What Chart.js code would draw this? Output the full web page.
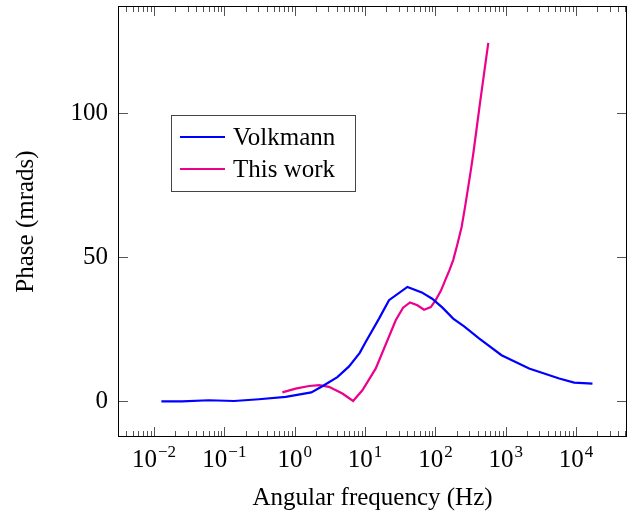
<!DOCTYPE html>
<html>
<head>
<meta charset="utf-8">
<script src="https://cdn.jsdelivr.net/npm/chart.js@4.4.0/dist/chart.umd.min.js"></script>
<style>
  html, body { margin: 0; padding: 0; background: #fff; }
  #wrap { width: 628px; height: 519px; }
</style>
</head>
<body>
<div id="wrap"><canvas id="chart" width="628" height="519"></canvas></div>
<script>
const FONT = '"Liberation Serif", "Times New Roman", serif';

// Volkmann
const volkmannFreq = [0.0127, 0.025, 0.06, 0.137, 0.31, 0.745, 1.72, 2.47, 4.04, 5.92, 8.4, 10.2, 15.8, 21.9,
  40, 64, 90, 126, 179, 256, 417, 872, 2150, 5760, 9400, 17100];
const volkmannPhase = [0, 0, 0.35, 0.1, 0.7, 1.5, 3.1, 5.2, 8.4, 12.1, 16.8, 20.6, 28.7, 35.1,
  39.7, 37.8, 35.6, 32.5, 28.7, 26, 21.8, 16, 11.4, 7.9, 6.5, 6.1];

// This work
const thisWorkFreq = [0.667, 1.03, 1.6, 2.22, 3.07, 4.76, 6.76, 9.16, 14.2, 27.3, 34.7, 43.6, 55.5, 69,
  86, 101, 120, 141, 159, 179, 205, 236, 263, 293, 318, 346, 385, 430, 490, 565];
const thisWorkPhase = [3.1, 4.4, 5.3, 5.6, 5.0, 2.7, 0.1, 3.8, 11.4, 28.1, 32.5, 34.3, 33.3, 31.8,
  32.7, 35.1, 38.4, 42.6, 45.6, 49, 54.4, 60.5, 67.2, 74.4, 80, 86, 94.5, 103.4, 113.5, 124.4];

const xDecades = [-2, -1, 0, 1, 2, 3, 4];
const yTicks = [0, 50, 100];
const xMin = 0.00307, xMax = 53000;
const yMin = -12.4, yMax = 137.2;

const toPoints = (xs, ys) => xs.map((f, i) => ({ x: f, y: ys[i] }));

// inward ticks, box frame, 10^k labels and the legend box
const frame = {
  id: 'frame',
  afterDraw(chart) {
    const { ctx, chartArea: a, scales: { x, y } } = chart;
    ctx.save();
    ctx.strokeStyle = '#555';
    ctx.lineWidth = 1;
    ctx.beginPath();
    for (let k = -3; k <= 4; k++) {
      for (let m = 1; m <= 9; m++) {
        const v = m * Math.pow(10, k);
        if (v <= xMin || v >= xMax) continue;
        const px = Math.round(x.getPixelForValue(v)) + 0.5;
        const len = m === 1 ? 10 : 6;
        ctx.moveTo(px, a.bottom); ctx.lineTo(px, a.bottom - len);
        ctx.moveTo(px, a.top); ctx.lineTo(px, a.top + len);
      }
    }
    yTicks.forEach(v => {
      const py = Math.round(y.getPixelForValue(v)) + 0.5;
      ctx.moveTo(a.left, py); ctx.lineTo(a.left + 10, py);
      ctx.moveTo(a.right, py); ctx.lineTo(a.right - 10, py);
    });
    ctx.stroke();

    ctx.strokeStyle = '#000';
    ctx.strokeRect(a.left + 0.5, a.top + 0.5, a.right - a.left - 1, a.bottom - a.top - 1);

    // x tick labels with superscript exponent
    ctx.fillStyle = '#000';
    ctx.textBaseline = 'alphabetic';
    ctx.textAlign = 'left';
    xDecades.forEach(k => {
      const px = x.getPixelForValue(Math.pow(10, k));
      const base = '10';
      const exp = (k < 0 ? '\u2212' : '') + Math.abs(k);
      ctx.font = '25px ' + FONT;
      const wb = ctx.measureText(base).width;
      ctx.font = '17px ' + FONT;
      const we = ctx.measureText(exp).width;
      const x0 = px - (wb + 1 + we) / 2;
      ctx.font = '25px ' + FONT;
      ctx.fillText(base, x0, a.bottom + 30);
      ctx.font = '17px ' + FONT;
      ctx.fillText(exp, x0 + wb + 1, a.bottom + 20);
    });

    // legend
    const lx = 171, ly = 115, lw = 184, lh = 76;
    ctx.fillStyle = '#fff';
    ctx.fillRect(lx, ly, lw, lh);
    ctx.strokeStyle = '#444';
    ctx.lineWidth = 1;
    ctx.strokeRect(lx + 0.5, ly + 0.5, lw, lh);
    chart.data.datasets.forEach((ds, i) => {
      const cy = 137 + i * 32;
      ctx.strokeStyle = ds.borderColor;
      ctx.lineWidth = 2;
      ctx.beginPath();
      ctx.moveTo(180, cy);
      ctx.lineTo(225, cy);
      ctx.stroke();
      ctx.fillStyle = '#000';
      ctx.font = '25px ' + FONT;
      ctx.fillText(ds.label, 233, cy + 8);
    });
    ctx.restore();
  }
};

new Chart(document.getElementById('chart'), {
  type: 'line',
  data: {
    datasets: [
      { label: 'Volkmann', data: toPoints(volkmannFreq, volkmannPhase), borderColor: '#0000ff',
        borderWidth: 2.2, pointRadius: 0, tension: 0, fill: false },
      { label: 'This work', data: toPoints(thisWorkFreq, thisWorkPhase), borderColor: '#ec008c',
        borderWidth: 2.2, pointRadius: 0, tension: 0, fill: false }
    ]
  },
  options: {
    responsive: false,
    animation: false,
    devicePixelRatio: 1,
    layout: { padding: { top: 6, right: 1, left: 0, bottom: 0 } },
    plugins: { legend: { display: false }, tooltip: { enabled: false } },
    scales: {
      x: {
        type: 'logarithmic', min: xMin, max: xMax,
        grid: { display: false, drawTicks: false }, border: { display: false },
        ticks: { display: false },
        title: { display: true, text: 'Angular frequency (Hz)', color: '#000',
          font: { family: FONT, size: 25 }, padding: { top: 0, bottom: 6 } },
        afterFit: s => { s.height = 82; s.paddingLeft = 0; s.paddingRight = 0; }
      },
      y: {
        min: yMin, max: yMax,
        grid: { display: false, drawTicks: false }, border: { display: false },
        afterBuildTicks: s => { s.ticks = yTicks.map(v => ({ value: v })); },
        ticks: { color: '#000', font: { family: FONT, size: 25 }, padding: 10 },
        title: { display: true, text: 'Phase (mrads)', color: '#000',
          font: { family: FONT, size: 25 }, padding: { top: 11, bottom: 0 } },
        afterFit: s => { s.width = 118; s.paddingTop = 0; s.paddingBottom = 0; }
      }
    }
  },
  plugins: [frame]
});
</script>
</body>
</html>
